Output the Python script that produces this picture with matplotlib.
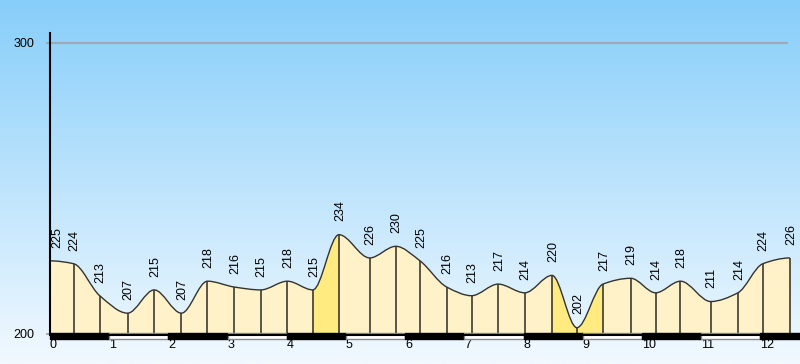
"""
Elevation profile of a route: altitude (m) vs distance (km),
smooth curve through the waypoints, steep segments highlighted.
"""

import numpy as np
import matplotlib
matplotlib.use("Agg")
import matplotlib.pyplot as plt
from matplotlib.path import Path
from matplotlib.patches import PathPatch
from matplotlib.colors import LinearSegmentedColormap


# ── data ───────────────────────────────────────────────────────────────────────
distance_km = [0.00, 0.40, 0.84, 1.31, 1.76, 2.22, 2.66, 3.11, 3.56, 4.01,
               4.44, 4.88, 5.40, 5.84, 6.25, 6.70, 7.12, 7.57, 8.02, 8.48,
               8.90, 9.34, 9.81, 10.23, 10.65, 11.16, 11.62, 12.04, 12.50]
altitude_m = [225, 224, 213, 207, 215, 207, 218, 216, 215, 218,
              215, 234, 226, 230, 225, 216, 213, 217, 214, 220,
              202, 217, 219, 214, 218, 211, 214, 224, 226]
km_ticks = list(range(13))
alt_ticks = [200, 300]

STEEP = 30          # m per km (3 %) -> yellow segment
BASE = 200

plt.rcParams["font.family"] = ["Liberation Sans", "DejaVu Sans"]

x = np.array(distance_km, dtype=float)
y = np.array(altitude_m, dtype=float)
h = np.diff(x)
d = np.diff(y) / h


# ── monotone (Fritsch-Carlson) tangents for the smooth curve ───────────────────
def end_slope(h0, h1, d0, d1):
    s = ((2 * h0 + h1) * d0 - h0 * d1) / (h0 + h1)
    if np.sign(s) != np.sign(d0):
        return 0.0
    if np.sign(d0) != np.sign(d1) and abs(s) > abs(3 * d0):
        return 3 * d0
    return s


m = np.zeros_like(y)
for k in range(1, len(y) - 1):
    if d[k - 1] * d[k] > 0:
        w1 = 2 * h[k] + h[k - 1]
        w2 = h[k] + 2 * h[k - 1]
        m[k] = (w1 + w2) / (w1 / d[k - 1] + w2 / d[k])
m[0] = end_slope(h[0], h[1], d[0], d[1])
m[-1] = end_slope(h[-1], h[-2], d[-1], d[-2])


def bezier(i):
    t = (x[i + 1] - x[i]) / 3
    return [(x[i] + t, y[i] + m[i] * t),
            (x[i + 1] - t, y[i + 1] - m[i + 1] * t),
            (x[i + 1], y[i + 1])]


# ── figure ─────────────────────────────────────────────────────────────────────
fig = plt.figure(figsize=(8, 3.64), dpi=100)

bg = fig.add_axes([0, 0, 1, 1], zorder=-10)
grad = LinearSegmentedColormap.from_list("sky", ["#f2f9ff", "#87cefa"])
bg.imshow(np.linspace(0, 1, 256)[:, None], cmap=grad, aspect="auto",
          origin="lower", extent=[0, 1, 0, 1])
bg.axis("off")

ax = fig.add_axes([50 / 800, 30.5 / 364, 750 / 800, 300.5 / 364])
ax.set_facecolor("none")
ax.set_xlim(0, 750 / 59.2)
ax.set_ylim(BASE, 303.4)

# filled segments
for i in range(len(x) - 1):
    verts = [(x[i], BASE), (x[i], y[i])] + bezier(i) + [(x[i + 1], BASE), (x[i], BASE)]
    codes = [Path.MOVETO, Path.LINETO, Path.CURVE4, Path.CURVE4, Path.CURVE4,
             Path.LINETO, Path.CLOSEPOLY]
    color = "#ffeb80" if abs(d[i]) > STEEP else "#fff2c8"
    ax.add_patch(PathPatch(Path(verts, codes), facecolor=color,
                           edgecolor="none", zorder=1))

# waypoint verticals
ax.vlines(x, BASE, y, color="#3d3a30", lw=1.2, zorder=2)

# profile outline
verts = [(x[0], y[0])]
codes = [Path.MOVETO]
for i in range(len(x) - 1):
    verts += bezier(i)
    codes += [Path.CURVE4] * 3
ax.add_patch(PathPatch(Path(verts, codes), fill=False,
                       edgecolor="#333333", lw=1.0, zorder=3))

# altitude labels
for i, (xi, yi) in enumerate(zip(x, y)):
    dx = 5.5 if i == 0 else 0.7
    ax.annotate(str(altitude_m[i]), (xi, yi), xytext=(dx, 9.5),
                textcoords="offset points", rotation=90,
                ha="center", va="bottom", fontsize=9, zorder=4)

# kilometre scale bar
for k in km_ticks:
    even = k % 2 == 0
    ax.bar(k, 1.75, bottom=BASE - 1.75, width=1, align="edge",
           color="black" if even else "white",
           edgecolor="black" if even else "#888888",
           lw=1, clip_on=False, zorder=5)
ax.axhline(BASE - 0.35, color="black", lw=1.5, clip_on=False, zorder=6)

# 300 m reference line
ax.axhline(300, xmax=(787 - 50) / 750, color="#9fa9b3", lw=1.5, zorder=0)

# axes styling
for side in ["top", "right", "bottom"]:
    ax.spines[side].set_visible(False)
ax.spines["left"].set_linewidth(1.5)
ax.spines["left"].set_zorder(7)

ax.set_yticks(alt_ticks)
ax.tick_params(axis="y", length=3, width=1.2, color="#a0a0a0",
               pad=8.5, labelsize=9)
ax.set_xticks(km_ticks)
ax.tick_params(axis="x", length=0, pad=4, labelsize=9)
for lbl in ax.get_xticklabels():
    lbl.set_ha("left")

fig.savefig("out.png", dpi=100)
